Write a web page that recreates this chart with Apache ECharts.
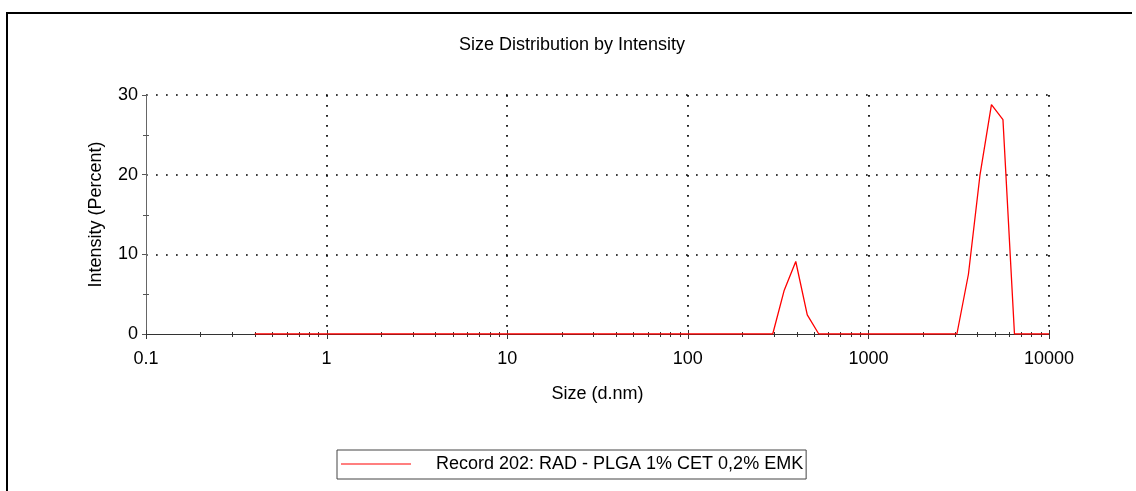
<!DOCTYPE html>
<html><head><meta charset="utf-8">
<script src="https://cdn.jsdelivr.net/npm/echarts@6/dist/echarts.min.js"></script>
<style>html,body{margin:0;padding:0;background:#fff}#c{width:1136px;height:491px}</style>
</head><body><div id="c"></div>
<script>
// Size bins (d.nm)
const sizes = [0.4, 0.4632, 0.5365, 0.6213, 0.7195, 0.8332, 0.9649, 1.117, 1.294, 1.499,
  1.736, 2.01, 2.328, 2.696, 3.122, 3.615, 4.187, 4.849, 5.615, 6.503,
  7.531, 8.721, 10.1, 11.7, 13.54, 15.69, 18.17, 21.04, 24.36, 28.21,
  32.67, 37.84, 43.82, 50.75, 58.77, 68.06, 78.82, 91.28, 105.7, 122.4,
  141.8, 164.2, 190.1, 220.2, 255.0, 295.3, 342.0, 396.1, 458.7, 531.2,
  615.1, 712.4, 825.0, 955.4, 1106, 1281, 1484, 1718, 1990, 2305,
  2669, 3091, 3580, 4145, 4801, 5560, 6439, 7456, 8635, 10000];
// Intensity (Percent)
const intensity = [0, 0, 0, 0, 0, 0, 0, 0, 0, 0,
  0, 0, 0, 0, 0, 0, 0, 0, 0, 0,
  0, 0, 0, 0, 0, 0, 0, 0, 0, 0,
  0, 0, 0, 0, 0, 0, 0, 0, 0, 0,
  0, 0, 0, 0, 0, 0, 5.5, 9.1, 2.4, 0,
  0, 0, 0, 0, 0, 0, 0, 0, 0, 0,
  0, 0, 7.5, 19.9, 28.8, 26.9, 0, 0, 0, 0];
const seriesName = 'Record 202: RAD - PLGA 1% CET 0,2% EMK';
const xMajorTicks = [0.1, 1, 10, 100, 1000, 10000];
const xTickLabels = ['0.1', '1', '10', '100', '1000', '10000'];
const xMinorTicks = [0.2,0.3,0.4,0.5,0.6,0.7,0.8,0.9, 2,3,4,5,6,7,8,9,
  20,30,40,50,60,70,80,90, 200,300,400,500,600,700,800,900,
  2000,3000,4000,5000,6000,7000,8000,9000];
const yMinorTicks = [5, 15, 25];

const FONT = '"Liberation Sans", Arial, sans-serif';
const chart = echarts.init(document.getElementById('c'), null, {renderer: 'canvas'});

function xTick(up, down) {
  return function (params, api) {
    const p = api.coord([api.value(0), 0]);
    const x = Math.round(p[0]) + 0.5;
    return {type: 'line', shape: {x1: x, y1: p[1] - up, x2: x, y2: p[1] + down},
      style: {stroke: '#333', lineWidth: 1}};
  };
}

chart.setOption({
  animation: false,
  backgroundColor: '#fff',
  title: {
    text: 'Size Distribution by Intensity', left: 459, top: 36, padding: 0,
    textStyle: {fontFamily: FONT, fontSize: 18, fontWeight: 'normal', color: '#000'}
  },
  graphic: [{
    type: 'polyline', silent: true,
    shape: {points: [[7, 600], [7, 13], [1132, 13]]},
    style: {fill: 'none', stroke: '#000', lineWidth: 2}
  }],
  legend: {
    left: 337, top: 450, padding: [4, 3, 5, 4],
    data: [{name: seriesName, icon: 'rect'}],
    itemWidth: 70, itemHeight: 1,
    borderColor: '#444', borderWidth: 1,
    textStyle: {fontFamily: FONT, fontSize: 18, color: '#000', lineHeight: 20, padding: [0, 0, 0, 20]}
  },
  grid: {left: 146, right: 87, top: 95, bottom: 157, containLabel: false},
  xAxis: {
    type: 'log', logBase: 10, min: 0.1, max: 10000, splitNumber: 5,
    name: 'Size (d.nm)', nameLocation: 'middle', nameGap: 51,
    nameTextStyle: {fontFamily: FONT, fontSize: 18, color: '#000'},
    axisLine: {lineStyle: {color: '#333', width: 1}},
    axisTick: {show: false},
    axisLabel: {
      fontFamily: FONT, fontSize: 18, color: '#000', margin: 16,
      formatter: function (v) {
        const i = xMajorTicks.findIndex(t => Math.abs(Math.log10(t) - Math.log10(v)) < 1e-6);
        return i >= 0 ? xTickLabels[i] : '';
      }
    },
    splitLine: {show: true, showMinLine: false, lineStyle: {color: '#000', width: 1.7, type: [1.7, 8.3]}}
  },
  yAxis: {
    type: 'value', min: 0, max: 30, interval: 10,
    name: 'Intensity (Percent)', nameLocation: 'middle', nameGap: 41,
    nameTextStyle: {fontFamily: FONT, fontSize: 18, color: '#000'},
    axisLine: {show: true, lineStyle: {color: '#666', width: 1}},
    axisTick: {show: true, length: 4, lineStyle: {color: '#555'}},
    axisLabel: {fontFamily: FONT, fontSize: 18, color: '#000', margin: 8},
    splitLine: {show: true, showMinLine: false, lineStyle: {color: '#000', width: 1.7, type: [1.7, 8.3]}}
  },
  series: [
    {
      name: seriesName, type: 'line', data: sizes.map((s, i) => [s, intensity[i]]),
      showSymbol: false, symbol: 'none', smooth: false, z: 5,
      lineStyle: {color: '#ff0000', width: 1.3}, itemStyle: {color: '#ff0000'}
    },
    {
      type: 'custom', clip: false, silent: true, z: 3,
      data: xMinorTicks.map(v => [v, 0]), renderItem: xTick(2, 3)
    },
    {
      type: 'custom', clip: false, silent: true, z: 3,
      data: xMajorTicks.map(v => [v, 0]), renderItem: xTick(4, 5)
    },
    {
      type: 'custom', clip: false, silent: true, z: 3,
      data: yMinorTicks.map(v => [0.1, v]),
      renderItem: function (params, api) {
        const p = api.coord([api.value(0), api.value(1)]);
        const y = Math.round(p[1]) + 0.5;
        return {type: 'line', shape: {x1: p[0] - 3, y1: y, x2: p[0] + 3, y2: y},
          style: {stroke: '#555', lineWidth: 1}};
      }
    }
  ]
});
</script></body></html>
